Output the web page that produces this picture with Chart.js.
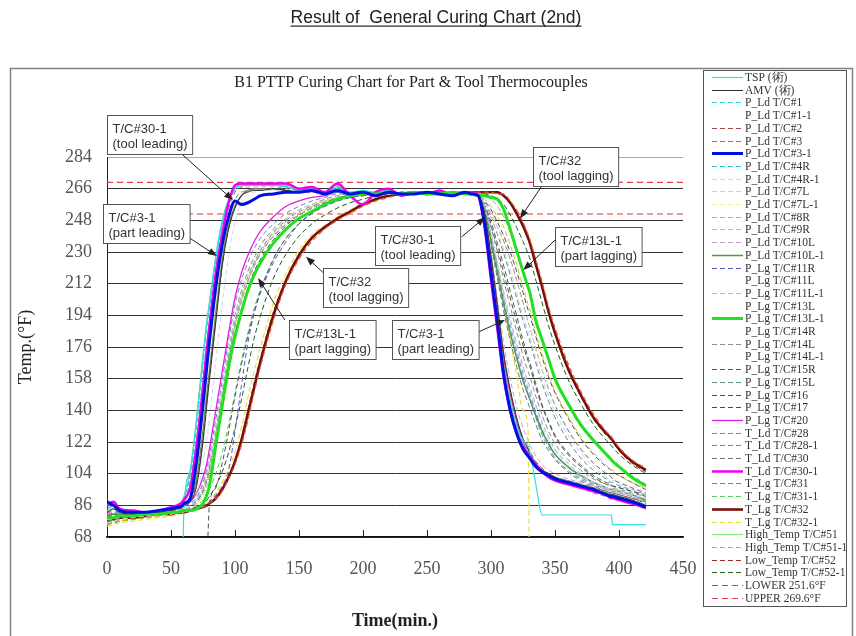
<!DOCTYPE html>
<html>
<head>
<meta charset="utf-8">
<title>Result of General Curing Chart (2nd)</title>
<script src="https://cdn.jsdelivr.net/npm/chart.js@4.4.1/dist/chart.umd.min.js"></script>
<style>
  html, body { margin: 0; padding: 0; background: #fff; }
  #wrap { width: 856px; height: 636px; }
</style>
</head>
<body>
<div id="wrap"><canvas id="curingChart" width="856" height="636"></canvas></div>
<script>
// time (min.) shared by every thermocouple trace
const minutes = [0,5,10,20,30,40,50,55,59,60, 65,70,75,78,80,85,90,95,100,105, 110,115,120,130,140,150,160,170,180,190,
  200,210,220,230,240,250,260,270,280,285, 290,295,300,305,310,315,320,325,329,330, 335,340,345,350,360,370,380,390,394,395, 400,410,421];

const tempTicks = [68, 86, 104, 122, 140, 158, 176, 194, 212, 230, 248, 266, 284];
const timeTicks = [0, 50, 100, 150, 200, 250, 300, 350, 400, 450];
const lowerLimit = 251.6;
const upperLimit = 269.6;

// temperatures (°F)
const tsp = [null,null,null,null,null,null,null,null,40,82, 106,135,170,190,201,228,248,260,266,268, 268,268,268,268,267,266,266,264,266,264,
  265,264,265,263,264,263,264,263,264,264, 262,244,213,185,160,142,130,123,120,118, 98,80.5,80.5,80.5,80.5,80.5,80.5,80.5,80.5,75, 75,75,75];
const amv = [82,84,82,81,81,82,83,84,85,86, 88,97,122,143,157,190,222,243,255,262, 264,265,265,266,265,264,265,263,266,263,
  264,263,264,262,263,264,263,264,263,263, 262,252,228,200,172,152,136,124,118,116, 110,106,104,102,99,97,95,93,92,92, 91,89,86];
const ld1 = [86,85,83,82,82,83,84,86,89,90, 104,135,170,190,200,226,246,258,266,268, 268,268,268,268,267,265,265,263,267,263,
  264,264,265,262,264,263,264,263,264,264, 263,244,214,185,160,141,128,119,114,113, 108,105,103,101,99,97,94,92,91,91, 90,88,85];
const ld2 = [80,81,81,81,82,82,83,84,85,86, 89,99,125,146,160,192,223,244,256,262, 265,266,266,266,265,264,264,263,265,263,
  264,263,264,263,263,264,263,263,264,263, 262,250,224,196,170,150,135,124,118,117, 111,107,104,102,100,98,96,94,93,93, 92,90,87];
const ld3 = [79,80,80,81,81,82,83,85,86,87, 91,113,146,168,181,212,236,251,260,264, 265,266,266,266,265,264,265,263,264,263,
  264,263,265,262,264,263,264,262,263,263, 262,255,238,220,202,186,171,158,149,147, 136,126,119,113,106,101,97,94,93,93, 92,90,88];
const ld3_1 = [88,86,83,82,82,83,84,85,86,87, 90,111,143,165,179,210,234,250,259,257, 258,260,262,263,264,264,265,263,265,263,
  264,262,264,263,263,264,263,262,264,263, 262,246,218,190,160,140,127,118,114,113, 108,105,103,101,99,97,95,92,91,91, 90,88,85];
const ld4r = [83,82,82,82,82,83,84,86,88,89, 100,130,166,187,198,225,245,258,266,268, 268,268,268,268,268,265,266,264,267,264,
  265,263,264,263,264,263,265,263,264,264, 263,248,222,194,166,146,132,122,117,115, 110,106,104,102,100,98,95,93,92,92, 91,89,86];
const ld4r_1 = [78,79,80,80,81,82,83,84,85,85, 86,92,110,124,135,168,200,228,247,258, 263,264,265,265,264,264,264,263,264,263,
  263,264,263,263,264,263,263,264,263,263, 262,256,240,224,206,190,176,163,154,152, 141,131,123,117,109,103,99,96,95,95, 94,92,90];
const ld7l = [79,79,80,80,81,81,82,83,84,84, 86,90,97,104,110,130,152,174,193,206, 217,226,233,242,249,254,257,259,261,262,
  263,263,264,263,263,264,263,263,264,263, 262,257,250,241,231,220,207,194,185,183, 170,158,148,139,126,116,108,102,100,100, 98,95,92];
const ld7l_1 = [76,77,78,79,80,80,81,82,83,83, 84,87,92,97,101,118,138,158,178,194, 206,216,224,236,244,250,254,257,260,262,
  263,263,263,264,263,263,264,263,263,263, 262,258,252,244,235,225,213,200,190,188, 175,163,153,144,130,119,111,105,103,102, 100,97,94];
const ld8r = [78,78,79,80,80,81,82,82,83,83, 85,89,95,101,107,126,146,168,188,202, 213,222,229,239,246,251,255,258,260,262,
  263,263,264,262,263,264,263,264,263,263, 262,255,240,224,207,192,178,165,156,154, 143,133,125,118,110,104,99,96,95,95, 94,92,90];
const ld9r = [81,82,82,82,82,83,84,85,87,88, 97,122,156,177,189,219,241,256,265,267, 267,267,267,267,266,264,265,264,266,263,
  265,263,264,263,263,264,263,263,264,263, 262,248,222,194,166,146,131,121,116,115, 110,107,104,102,100,98,96,93,92,92, 91,89,86];
const ld10l = [80,81,81,81,81,82,83,84,85,86, 88,98,124,145,158,191,222,243,255,262, 265,266,266,266,265,264,264,263,265,263,
  264,263,264,262,263,264,263,263,264,263, 262,252,230,204,178,158,142,130,123,121, 114,109,106,104,101,99,97,95,94,94, 93,91,88];
const ld10l_1 = [80,81,81,82,82,83,84,85,86,86, 89,101,128,149,162,195,225,245,256,262, 265,266,266,266,265,264,265,263,266,263,
  264,263,264,263,264,263,264,263,263,263, 262,254,236,218,200,184,170,157,149,147, 137,128,121,115,108,103,99,96,95,95, 94,92,89];
const lg11r = [78,78,79,80,80,81,82,82,83,83, 84,85,86,87,88,92,97,106,128,154, 178,195,207,224,236,246,252,256,259,261,
  262,263,263,264,263,263,264,263,263,263, 262,258,252,244,236,226,214,201,190,188, 175,163,152,143,129,118,110,104,102,101, 99,96,93];
const lg11l_1 = [75,76,77,78,79,80,81,82,82,83, 84,87,93,99,104,124,145,167,188,203, 214,223,230,240,247,252,256,259,261,262,
  263,263,264,263,264,263,263,264,263,263, 262,260,256,250,244,234,223,210,200,198, 184,172,161,151,137,125,116,109,106,106, 103,99,96];
const lg13l_1 = [79,79,80,80,81,81,82,82,83,83, 83,84,87,92,97,120,143,165,182,196, 208,217,224,235,243,249,253,257,260,262,
  263,263,264,263,264,263,263,264,263,263, 262,262,261,260,254,243,231,219,210,208, 191,180,169,158,144,132,123,115,112,111, 108,102,97];
const lg14l = [80,80,80,81,81,82,82,83,84,84, 86,90,97,104,110,130,152,174,194,208, 219,227,234,243,249,254,257,260,262,263,
  263,264,263,263,264,263,264,263,263,263, 262,256,244,230,214,199,185,171,162,160, 148,137,128,121,112,106,101,98,97,96, 95,93,91];
const lg15r = [77,78,79,79,80,81,82,82,83,83, 85,88,94,100,106,125,146,168,188,202, 213,222,229,239,246,251,255,258,261,262,
  263,263,263,264,263,264,263,263,264,263, 262,257,247,235,222,208,194,180,170,168, 155,143,134,126,116,109,103,99,98,97, 96,94,92];
const lg15l = [78,79,79,80,80,81,82,83,84,84, 86,89,95,102,108,128,150,172,191,205, 216,224,231,241,248,253,256,259,261,262,
  263,264,263,263,264,263,263,264,263,263, 262,258,250,240,229,217,204,191,182,180, 167,155,145,136,123,113,106,101,99,99, 97,95,92];
const lg16 = [77,77,78,79,80,80,81,82,83,83, 84,87,92,97,102,120,140,161,181,197, 209,219,226,237,245,251,255,258,260,262,
  263,263,264,263,263,263,264,263,263,263, 262,256,245,232,218,204,190,177,168,166, 153,142,133,125,115,108,102,98,97,97, 96,94,91];
const lg17 = [null,null,null,null,null,null,null,null,null,null, null,null,null,50,86,96,110,128,148,166, 182,196,208,226,238,246,252,256,259,261,
  262,263,263,264,263,263,264,263,263,263, 262,259,254,247,239,230,219,207,197,195, 182,170,159,150,136,124,115,108,106,105, 103,99,95];
const lg20 = [82,81,81,81,82,82,83,84,85,86, 88,93,102,110,118,140,162,184,204,218, 228,236,242,250,256,259,261,262,264,263,
  264,263,264,263,263,264,263,263,264,263, 262,250,226,198,170,150,134,122,116,115, 109,106,103,101,99,97,94,92,91,90, 89,87,84];
const td28 = [84,86,83,82,82,83,85,86,89,90, 104,134,169,189,199,226,246,258,266,268, 268,268,268,268,268,265,266,264,268,263,
  265,263,265,262,264,263,265,262,264,264, 262,246,218,190,163,143,129,120,115,114, 109,105,102,100,98,96,93,91,90,90, 89,87,84];
const td28_1 = [79,80,80,81,81,82,83,83,84,85, 87,91,99,107,114,135,157,180,200,214, 224,232,238,246,252,256,259,261,263,263,
  264,263,263,264,263,264,263,263,263,263, 262,255,240,223,205,189,174,161,152,150, 139,129,121,115,108,102,98,95,94,94, 93,91,88];
const td30 = [82,83,82,82,82,83,84,85,87,88, 96,120,154,175,187,218,240,255,264,267, 268,268,268,268,267,265,266,263,267,262,
  265,263,264,263,264,263,264,263,264,263, 262,252,234,215,196,180,165,152,144,142, 132,123,117,112,105,100,96,94,93,93, 92,90,88];
const td30_1 = [86,88,84,83,82,83,85,86,88,89, 96,120,153,175,188,218,240,258,268,269, 269,269,269,269,269,266,267,264,269,262,
  257,264,266,262,264,263,265,262,264,264, 262,244,214,186,158,140,127,119,115,114, 109,105,102,100,98,96,94,92,90,90, 89,87,85];
const tg31 = [77,77,78,79,80,80,81,82,82,82, 83,84,85,86,87,90,94,101,109,120, 134,150,165,191,212,226,236,243,248,252,
  256,259,261,263,264,263,264,263,264,264, 264,264,264,263,263,259,254,247,240,238, 226,213,199,187,167,151,138,128,125,124, 119,112,107];
const tg31_1 = [76,77,78,79,80,81,82,82,83,83, 84,86,89,92,95,104,116,132,150,168, 184,198,209,226,238,246,252,256,259,261,
  262,263,263,264,263,263,264,263,264,263, 263,262,260,256,250,241,230,218,209,207, 193,180,168,158,143,131,122,115,112,111, 108,103,98];
const tg32 = [80,78,79,79,80,81,81,82,82,82, 83,84,85,86,87,90,95,102,111,123, 138,153,168,194,214,228,238,244,249,253,
  257,260,262,263,264,263,264,263,264,264, 264,264,264,264,262,258,252,245,238,236, 223,210,196,184,164,149,136,127,124,123, 118,111,106];
const tg32_1 = [74,75,76,77,78,79,80,81,82,82, 83,84,86,88,89,93,99,107,116,130, 147,162,176,201,218,231,240,245,250,254,
  258,261,262,263,264,263,264,263,264,264, 263,256,240,222,200,180,160,140,128,50];
const ht51 = [83,84,83,82,82,83,84,86,89,91, 106,136,172,191,201,227,247,259,267,268, 268,268,268,268,267,265,266,264,267,263,
  264,263,265,263,264,263,264,263,264,264, 262,247,220,192,165,145,130,121,116,115, 110,106,104,102,100,98,95,93,92,92, 91,89,86];
const ht51_1 = [84,85,83,82,82,83,84,85,87,88, 98,123,157,178,190,220,242,257,266,268, 268,268,268,268,267,265,266,264,267,264,
  264,263,264,263,264,263,264,263,264,264, 263,248,221,193,166,146,131,121,116,115, 110,106,104,102,99,97,95,93,92,92, 91,88,85];
const lt52 = [76,76,77,78,79,80,81,82,82,82, 83,84,85,86,87,91,96,103,112,124, 140,156,170,196,215,229,238,244,249,253,
  257,260,262,263,264,263,264,263,264,264, 264,264,264,263,262,258,251,244,237,235, 222,209,195,183,163,148,135,126,123,122, 117,110,105];
const lt52_1 = [75,76,77,78,79,80,81,82,82,83, 84,85,87,89,91,97,105,116,130,146, 164,181,194,215,229,239,246,251,255,258,
  260,262,263,263,264,263,264,263,264,264, 264,263,262,260,257,251,244,236,229,227, 214,201,188,177,158,144,132,123,120,119, 115,109,104];

// callout labels: box corner, arrow tail and arrow tip in (min, °F)
const callouts = [
  { lines: ['T/C#30-1', '(tool leading)'], at: [0, 307.8], tail: [58.6, 285.6], tip: [98.4, 259.5] },
  { lines: ['T/C#3-1', '(part leading)'], at: [-3.1, 257.2], tail: [56.3, 241.9], tip: [85.9, 227.7] },
  { lines: ['T/C#32', '(tool lagging)'], at: [168.8, 220.8], tail: [169, 218.2], tip: [155.5, 227.3] },
  { lines: ['T/C#13L-1', '(part lagging)'], at: [142.2, 191.3], tail: [139, 191.3], tip: [118, 215.2] },
  { lines: ['T/C#30-1', '(tool leading)'], at: [209.4, 244.7], tail: [277.1, 238.6], tip: [295.3, 249.7] },
  { lines: ['T/C#3-1', '(part leading)'], at: [222.4, 191.3], tail: [287.5, 183.7], tip: [310.9, 191.3] },
  { lines: ['T/C#32', '(tool lagging)'], at: [333, 289.8], tail: [339.6, 267.4], tip: [322.7, 249.1] },
  { lines: ['T/C#13L-1', '(part lagging)'], at: [350, 244], tail: [350, 236.75], tip: [325.2, 219.7] }
];

const SERIF = '"Liberation Serif", "Times New Roman", serif';
const SANS = '"Liberation Sans", Arial, sans-serif';

function trace(label, color, values, width, dashed, order = 1) {
    return {
        label: label,
        data: values.map((v, i) => ({ x: minutes[i], y: v })),
        borderColor: color,
        backgroundColor: color,
        borderWidth: width,
        borderDash: dashed ? [5, 3] : [],
        order: order
    };
}

function limitLine(label, color, value) {
    return {
        label: label,
        data: [{ x: timeTicks[0], y: value }, { x: timeTicks[timeTicks.length - 1], y: value }],
        borderColor: color,
        backgroundColor: color,
        borderWidth: 1.2,
        borderDash: [6, 4],
        order: 2
    };
}

const datasets = [
    trace('TSP (術)', '#30e0e0', tsp, 1.2, false),
    trace('AMV (術)', '#303030', amv, 1, false),
    trace('P_Ld T/C#1', '#30d0d0', ld1, 1, true),
    trace('P_Ld T/C#1-1', '#ffffff', [], 0, false),
    trace('P_Ld T/C#2', '#a04848', ld2, 1, true),
    trace('P_Ld T/C#3', '#4f8f8f', ld3, 1, true),
    trace('P_Ld T/C#3-1', '#0010e0', ld3_1, 3, false, 0),
    trace('P_Ld T/C#4R', '#30c8d0', ld4r, 1, true),
    trace('P_Ld T/C#4R-1', '#c8dce8', ld4r_1, 1, true),
    trace('P_Ld T/C#7L', '#d0d0d0', ld7l, 1, true),
    trace('P_Ld T/C#7L-1', '#f0f0a0', ld7l_1, 1, true),
    trace('P_Ld T/C#8R', '#a8a8d8', ld8r, 1, true),
    trace('P_Ld T/C#9R', '#e0a0b8', ld9r, 1, true),
    trace('P_Ld T/C#10L', '#c8a0d0', ld10l, 1, true),
    trace('P_Ld T/C#10L-1', '#4c9a50', ld10l_1, 1.5, false),
    trace('P_Lg T/C#11R', '#5858c8', lg11r, 1, true),
    trace('P_Lg T/C#11L', '#ffffff', [], 0, false),
    trace('P_Lg T/C#11L-1', '#c8c828', lg11l_1, 1, true),
    trace('P_Lg T/C#13L', '#ffffff', [], 0, false),
    trace('P_Lg T/C#13L-1', '#22e022', lg13l_1, 3, false, 0),
    trace('P_Lg T/C#14R', '#ffffff', [], 0, false),
    trace('P_Lg T/C#14L', '#8c8c8c', lg14l, 1, true),
    trace('P_Lg T/C#14L-1', '#ffffff', [], 0, false),
    trace('P_Lg T/C#15R', '#4c5c6c', lg15r, 1, true),
    trace('P_Lg T/C#15L', '#5c9090', lg15l, 1, true),
    trace('P_Lg T/C#16', '#4c5c3c', lg16, 1, true),
    trace('P_Lg T/C#17', '#505050', lg17, 1, true),
    trace('P_Lg T/C#20', '#e020e0', lg20, 1.3, false),
    trace('T_Ld T/C#28', '#c068c0', td28, 1, true),
    trace('T_Ld T/C#28-1', '#7c7cc8', td28_1, 1, true),
    trace('T_Ld T/C#30', '#707070', td30, 1, true),
    trace('T_Ld T/C#30-1', '#f000f0', td30_1, 2.5, false, 0),
    trace('T_Lg T/C#31', '#e06038', tg31, 1.2, true),
    trace('T_Lg T/C#31-1', '#58d058', tg31_1, 1, true),
    trace('T_Lg T/C#32', '#7a0c0c', tg32, 2.6, false),
    trace('T_Lg T/C#32-1', '#e8e040', tg32_1, 1.2, true),
    trace('High_Temp T/C#51', '#80e880', ht51, 1.2, false),
    trace('High_Temp T/C#51-1', '#38d8d8', ht51_1, 1, true),
    trace('Low_Temp T/C#52', '#a03030', lt52, 1, true),
    trace('Low_Temp T/C#52-1', '#186018', lt52_1, 1, true),
    limitLine('LOWER 251.6°F', '#e03838', lowerLimit),
    limitLine('UPPER 269.6°F', '#e84050', upperLimit)
];

function arrow(ctx, x1, y1, x2, y2) {
    const a = Math.atan2(y2 - y1, x2 - x1);
    ctx.beginPath();
    ctx.moveTo(x1, y1);
    ctx.lineTo(x2 - 6 * Math.cos(a), y2 - 6 * Math.sin(a));
    ctx.stroke();
    ctx.beginPath();
    ctx.moveTo(x2, y2);
    ctx.lineTo(x2 - 9 * Math.cos(a) + 3.5 * Math.sin(a), y2 - 9 * Math.sin(a) - 3.5 * Math.cos(a));
    ctx.lineTo(x2 - 9 * Math.cos(a) - 3.5 * Math.sin(a), y2 - 9 * Math.sin(a) + 3.5 * Math.cos(a));
    ctx.closePath();
    ctx.fill();
}

// titles, frame, inner tick marks, callouts and the legend box
const decor = {
    id: 'decor',
    afterDraw(chart) {
        const ctx = chart.ctx;
        const x = chart.scales.x;
        const y = chart.scales.y;
        ctx.save();

        ctx.fillStyle = '#222';
        ctx.textAlign = 'center';
        ctx.textBaseline = 'alphabetic';
        ctx.font = '17.5px ' + SANS;
        const head = 'Result of  General Curing Chart (2nd)';
        ctx.fillText(head, 436, 23);
        const hw = ctx.measureText(head).width;
        ctx.fillRect(436 - hw / 2, 25.5, hw, 1.2);

        ctx.font = '16px ' + SERIF;
        ctx.fillText('B1 PTTP Curing Chart for Part & Tool Thermocouples', 411, 87);

        ctx.strokeStyle = '#808080';
        ctx.lineWidth = 1.5;
        ctx.beginPath();
        ctx.moveTo(10.5, 636);
        ctx.lineTo(10.5, 68.5);
        ctx.lineTo(852.5, 68.5);
        ctx.lineTo(852.5, 636);
        ctx.stroke();

        // tick marks point up into the plot
        ctx.strokeStyle = '#222';
        ctx.lineWidth = 1;
        x.ticks.forEach(t => {
            if (t.value <= x.min || t.value >= x.max) return;
            const px = Math.round(x.getPixelForValue(t.value)) + 0.5;
            ctx.beginPath();
            ctx.moveTo(px, y.bottom);
            ctx.lineTo(px, y.bottom - 7);
            ctx.stroke();
        });

        ctx.font = '13px ' + SANS;
        ctx.textAlign = 'left';
        callouts.forEach(c => {
            const bx = Math.round(x.getPixelForValue(c.at[0])) + 0.5;
            const by = Math.round(y.getPixelForValue(c.at[1])) + 0.5;
            const w = Math.max(...c.lines.map(s => ctx.measureText(s).width)) + 10;
            ctx.strokeStyle = '#222';
            ctx.fillStyle = '#222';
            ctx.lineWidth = 1;
            arrow(ctx, x.getPixelForValue(c.tail[0]), y.getPixelForValue(c.tail[1]),
                x.getPixelForValue(c.tip[0]), y.getPixelForValue(c.tip[1]));
            ctx.fillStyle = '#fff';
            ctx.fillRect(bx, by, w, 39);
            ctx.strokeStyle = '#555';
            ctx.strokeRect(bx, by, w, 39);
            ctx.fillStyle = '#333';
            ctx.fillText(c.lines[0], bx + 5, by + 17);
            ctx.fillText(c.lines[1], bx + 5, by + 32);
        });

        ctx.fillStyle = '#fff';
        ctx.fillRect(703.5, 70.5, 143, 536);
        ctx.strokeStyle = '#555';
        ctx.lineWidth = 1;
        ctx.strokeRect(703.5, 70.5, 143, 536);
        ctx.font = '11.5px ' + SERIF;
        ctx.textBaseline = 'middle';
        chart.data.datasets.forEach((ds, i) => {
            const ly = Math.round(77 + i * 12.7) + 0.5;
            if (ds.borderWidth > 0) {
                ctx.strokeStyle = ds.borderColor;
                ctx.lineWidth = Math.min(ds.borderWidth, 3);
                ctx.setLineDash(ds.borderDash);
                ctx.beginPath();
                ctx.moveTo(712, ly);
                ctx.lineTo(743, ly);
                ctx.stroke();
                ctx.setLineDash([]);
            }
            ctx.fillStyle = '#333';
            ctx.fillText(ds.label, 745, ly);
        });
        ctx.restore();
    }
};

const ctx = document.getElementById('curingChart').getContext('2d');
window.chart = new Chart(ctx, {
    type: 'line',
    data: { datasets: datasets },
    options: {
        responsive: false,
        animation: false,
        devicePixelRatio: 1,
        layout: { padding: { left: 11, top: 157, right: 173, bottom: 4 } },
        datasets: {
            line: { spanGaps: true, cubicInterpolationMode: 'monotone', pointRadius: 0, fill: false }
        },
        plugins: {
            legend: { display: false },
            tooltip: { enabled: false },
            title: { display: false }
        },
        scales: {
            x: {
                type: 'linear',
                min: timeTicks[0],
                max: timeTicks[timeTicks.length - 1],
                afterFit: s => { s.height = 95; },
                afterBuildTicks: s => { s.ticks = timeTicks.map(v => ({ value: v })); },
                ticks: { padding: 13, color: '#555', maxRotation: 0, autoSkip: false, font: { family: SERIF, size: 18 } },
                grid: { display: false },
                border: { display: true, color: '#111', width: 1.5 },
                title: { display: true, text: 'Time(min.)', color: '#222', padding: { top: 0, bottom: 0 },
                    font: { family: SERIF, size: 18, weight: 'bold' } }
            },
            y: {
                type: 'linear',
                min: tempTicks[0],
                max: tempTicks[tempTicks.length - 1],
                afterFit: s => { s.width = 96; },
                afterBuildTicks: s => { s.ticks = tempTicks.map(v => ({ value: v })); },
                ticks: { padding: 15, color: '#555', font: { family: SERIF, size: 18 } },
                grid: {
                    drawTicks: false,
                    lineWidth: 1,
                    color: c => (c.tick && c.tick.value === 284 ? '#a8a8a8' : '#333')
                },
                border: { display: true, color: '#222', width: 1 },
                title: { display: true, text: 'Temp.(°F)', color: '#222', padding: { top: 4, bottom: 0 },
                    font: { family: SERIF, size: 18 } }
            }
        }
    },
    plugins: [decor]
});
</script>
</body>
</html>
